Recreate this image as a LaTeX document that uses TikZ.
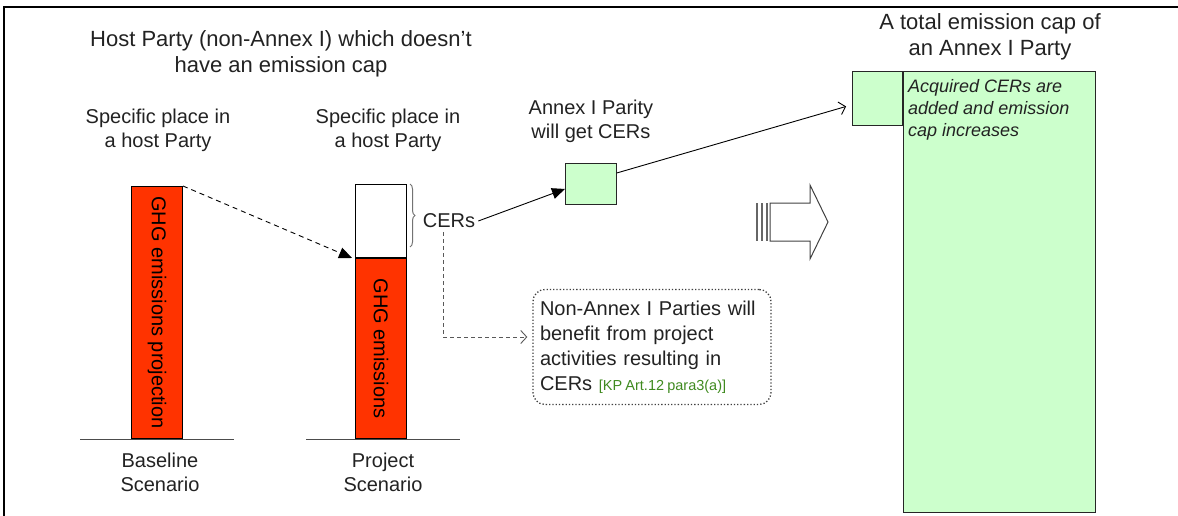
\documentclass[tikz,border=0pt]{standalone}
\usepackage{fontspec}
\setmainfont{Liberation Sans}
\usepackage{xcolor}
\usepackage{tikz}
\usetikzlibrary{arrows.meta}
\usetikzlibrary{positioning,decorations.pathreplacing}
\definecolor{ghgred}{HTML}{FF3300}
\definecolor{cergreen}{HTML}{CCFFCC}
\definecolor{txtgray}{HTML}{222222}
\definecolor{refgreen}{HTML}{3F8A1F}
\tikzstyle{bar}=[draw=black,line width=1pt,fill=ghgred,inner sep=0pt,minimum width=51pt]
\tikzstyle{capbox}=[draw=black!85,line width=.9pt,fill=cergreen,inner sep=0pt]
\tikzstyle{txt}=[font=\fontsize{20}{24}\selectfont,align=center,text=txtgray,inner sep=0pt]
\tikzstyle{head}=[font=\fontsize{22}{26}\selectfont,align=center,text=txtgray,inner sep=0pt]
\tikzstyle{gnd}=[line width=1pt,black!70]
\tikzstyle{cv} =[line width=.9pt,-{Triangle[length=13pt,width=11pt]}]
\tikzstyle{cvo}=[line width=.9pt,-{Straight Barb[length=6pt,width=13pt]}]

\begin{document}
\begin{tikzpicture}[x=1pt,y=-1pt]
	\useasboundingbox (0,0) rectangle (1178,516);
	\draw[line width=2.5pt] (4,516) -- (4,7) -- (1178,7);
	% host party side
	\node[head] (host) at (281,54) {Host Party (non-Annex I) which doesn't\\have an emission cap};
	\node[bar,minimum height=252pt,anchor=north west] (base) at (131,186) {};
	\node[draw=black,line width=1pt,fill=white,inner sep=0pt,minimum width=51pt,minimum height=73pt,anchor=south west] (cut) at (355,258) {};
	\node[bar,minimum height=180pt,anchor=north west] (proj) at (355,258) {};
	\node[txt,text=black,rotate=-90] (basetxt) at (base) {GHG emissions projection};
	\node[txt,text=black,rotate=-90] (projtxt) at (proj) {GHG emissions};
	\draw[gnd] ([xshift=-51pt]base.south west) -- ([xshift=51pt]base.south east);
	\draw[gnd] ([xshift=-49pt]proj.south west) -- ([xshift=53pt]proj.south east);
	\node[txt] (spec1) at (158,130) {Specific place in\\a host Party};
	\node[txt] (spec2) at (388,130) {Specific place in\\a host Party};
	\node[txt] (basename) at (160,472) {Baseline\\Scenario};
	\node[txt] (projname) at (383,472) {Project\\Scenario};
	% CERs
	\node[txt] (cers) at (449,221) {CERs};
	\draw[black!55,line width=1pt,decorate,decoration={brace,amplitude=5pt}]
	  ([xshift=3pt]cut.north east) -- ([xshift=3pt,yshift=11pt]cut.south east);
	\node[capbox,minimum width=51pt,minimum height=41pt,anchor=north west] (get) at (565,163) {};
	\node[txt,above=20pt of get] (annex) {Annex I Parity\\will get CERs};
	\node[draw=black!75,dotted,line width=1.3pt,rounded corners=12pt,minimum width=238pt,minimum height=115pt,
	  text width=224pt,align=left,inner sep=0pt,font=\fontsize{20}{25}\selectfont,text=txtgray] (note) at (652,347)
	  {Non-Annex I Parties will\\benefit from project\\activities resulting in\\CERs \mbox{\fontsize{14.5}{16}\selectfont\spaceskip=.22em\color{refgreen}[KP Art.12 para3(a)]}};
	% annex I party side
	\node[head] (capt) at (990,37) {A total emission cap of\\an Annex I Party};
	\node[capbox,minimum width=192pt,minimum height=441pt,anchor=north west] (total) at (903,71) {};
	\node[capbox,minimum width=50pt,minimum height=54pt,anchor=north east] (added) at (total.north west) {};
	\node[font=\fontsize{18}{22}\selectfont\itshape,align=left,anchor=north west,inner sep=0pt,text=txtgray] (acq) at (908,79)
	  {Acquired CERs are\\added and emission\\cap increases};
	\draw[black!75,line width=1pt] (770,203) -- (810,203) -- (810,185) -- (828,222) -- (810,259) -- (810,241) -- (770,241) -- cycle;
	\foreach \x in {757,762,767} \draw[line width=1.5pt,black!60] (\x,203) -- (\x,241);
	% connectors
	\draw[cv,dash pattern=on 5pt off 4pt] (base.north east) -- ([xshift=-3pt]proj.north west);
	\draw[cv] ([xshift=3pt]cers.east) -- ([yshift=-5pt]get.west);
	\draw[cvo] ([yshift=11pt]get.east) -- ([xshift=-6pt,yshift=-8pt]added.west);
	\draw[cvo,black!65,dash pattern=on 4pt off 3pt] ([xshift=-6pt,yshift=-4pt]cers.south) |- ([xshift=-5pt,yshift=10pt]note.west);
\end{tikzpicture}
\end{document}
